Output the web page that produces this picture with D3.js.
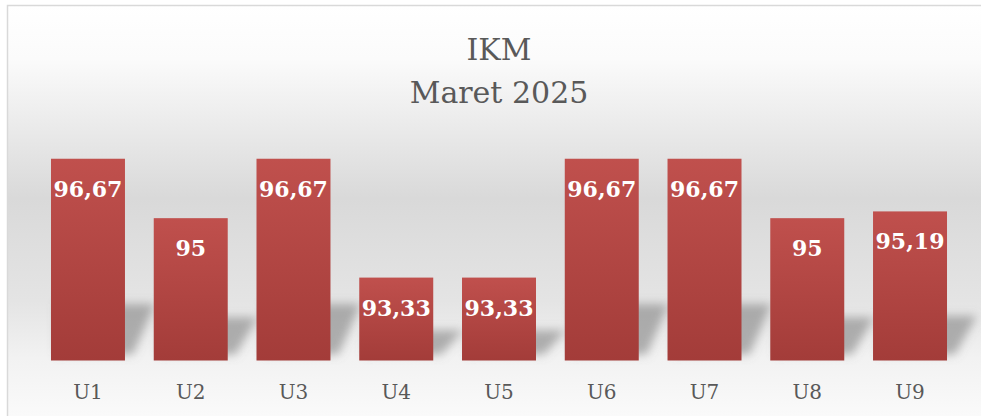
<!DOCTYPE html>
<html>
<head>
<meta charset="utf-8">
<script src="https://cdn.jsdelivr.net/npm/d3@7"></script>
<style>
  body { margin: 0; background: #fff; }
  svg { display: block; }
</style>
</head>
<body>
<div class="diagram"></div>
<script>
var categories = ['U1', 'U2', 'U3', 'U4', 'U5', 'U6', 'U7', 'U8', 'U9'];
var values = [96.67, 95, 96.67, 93.33, 93.33, 96.67, 96.67, 95, 95.19];
var titleLines = ['IKM', 'Maret 2025'];
var yDomain = [91, 97];

var width = 981, height = 416;
var base = 360.5;

var svg = d3.select('.diagram')
	.append('svg')
	.attr('width', width)
	.attr('height', height);

var defs = svg.append('defs');

var bg = defs.append('linearGradient')
	.attr('id', 'bg')
	.attr('gradientUnits', 'userSpaceOnUse')
	.attr('x1', 0).attr('y1', 5).attr('x2', 0).attr('y2', 416);
[[0, '#ffffff'], [0.13, '#fbfbfb'], [0.47, '#d9d9d9'], [0.72, '#e4e4e4'], [0.86, '#f2f2f2'], [1, '#fafafa']]
	.forEach(function(s) {
		bg.append('stop').attr('offset', s[0]).attr('stop-color', s[1]);
	});

var barGrad = defs.append('linearGradient')
	.attr('id', 'barGrad')
	.attr('x1', 0).attr('y1', 0).attr('x2', 0).attr('y2', 1);
barGrad.append('stop').attr('offset', 0).attr('stop-color', '#c0504d');
barGrad.append('stop').attr('offset', 1).attr('stop-color', '#a33c39');

defs.append('filter')
	.attr('id', 'blur')
	.attr('x', '-30%').attr('y', '-30%').attr('width', '160%').attr('height', '160%')
	.append('feGaussianBlur')
	.attr('stdDeviation', 5);

// chart area
svg.append('rect')
	.attr('x', 7.5).attr('y', 5.5)
	.attr('width', 990).attr('height', 420)
	.attr('fill', 'url(#bg)')
	.attr('stroke', '#d9d9d9')
	.attr('stroke-width', 1.5);

var x = d3.scaleBand()
	.domain(categories)
	.range([36.6, 961.4])
	.paddingInner(0.28)
	.paddingOuter(0.14);

var y = d3.scaleLinear()
	.domain(yDomain)
	.range([base, 147]);

// title
svg.append('g')
	.selectAll('text')
	.data(titleLines)
	.enter().append('text')
	.attr('x', 499)
	.attr('y', function(d, i) { return 60 + i * 43; })
	.attr('text-anchor', 'middle')
	.attr('font-family', '"DejaVu Serif", serif')
	.attr('font-size', 30)
	.attr('fill', '#595959')
	.text(function(d) { return d; });

// floor shadows
svg.append('g')
	.attr('filter', 'url(#blur)')
	.selectAll('polygon')
	.data(values)
	.enter().append('polygon')
	.attr('points', function(d, i) {
		var x0 = x(categories[i]), w = x.bandwidth();
		var h = base - y(d);
		var top = base - (0.22 * h + 12);
		return [[x0 + 6, top], [x0 + w + 30, top], [x0 + w + 8, base - 6], [x0 + 6, base - 6]].join(' ');
	})
	.attr('fill', '#767676')
	.attr('opacity', 0.55);

// bars
svg.append('g')
	.selectAll('rect')
	.data(values)
	.enter().append('rect')
	.attr('x', function(d, i) { return x(categories[i]); })
	.attr('y', function(d) { return y(d); })
	.attr('width', x.bandwidth())
	.attr('height', function(d) { return base - y(d); })
	.attr('fill', 'url(#barGrad)');

// value labels
svg.append('g')
	.selectAll('text')
	.data(values)
	.enter().append('text')
	.attr('x', function(d, i) { return x(categories[i]) + x.bandwidth() / 2; })
	.attr('y', function(d) { return y(d) + 38; })
	.attr('text-anchor', 'middle')
	.attr('font-family', '"DejaVu Serif", serif')
	.attr('font-weight', 'bold')
	.attr('font-size', 22)
	.attr('fill', '#ffffff')
	.text(function(d) { return String(d).replace('.', ','); });

// category axis
var axis = svg.append('g')
	.attr('transform', 'translate(0,' + base + ')')
	.call(d3.axisBottom(x).tickSize(0));
axis.select('.domain').remove();
axis.selectAll('text')
	.attr('y', 38.5)
	.attr('dy', 0)
	.attr('font-family', '"DejaVu Serif", serif')
	.attr('font-size', 20)
	.attr('fill', '#595959');
</script>
</body>
</html>
